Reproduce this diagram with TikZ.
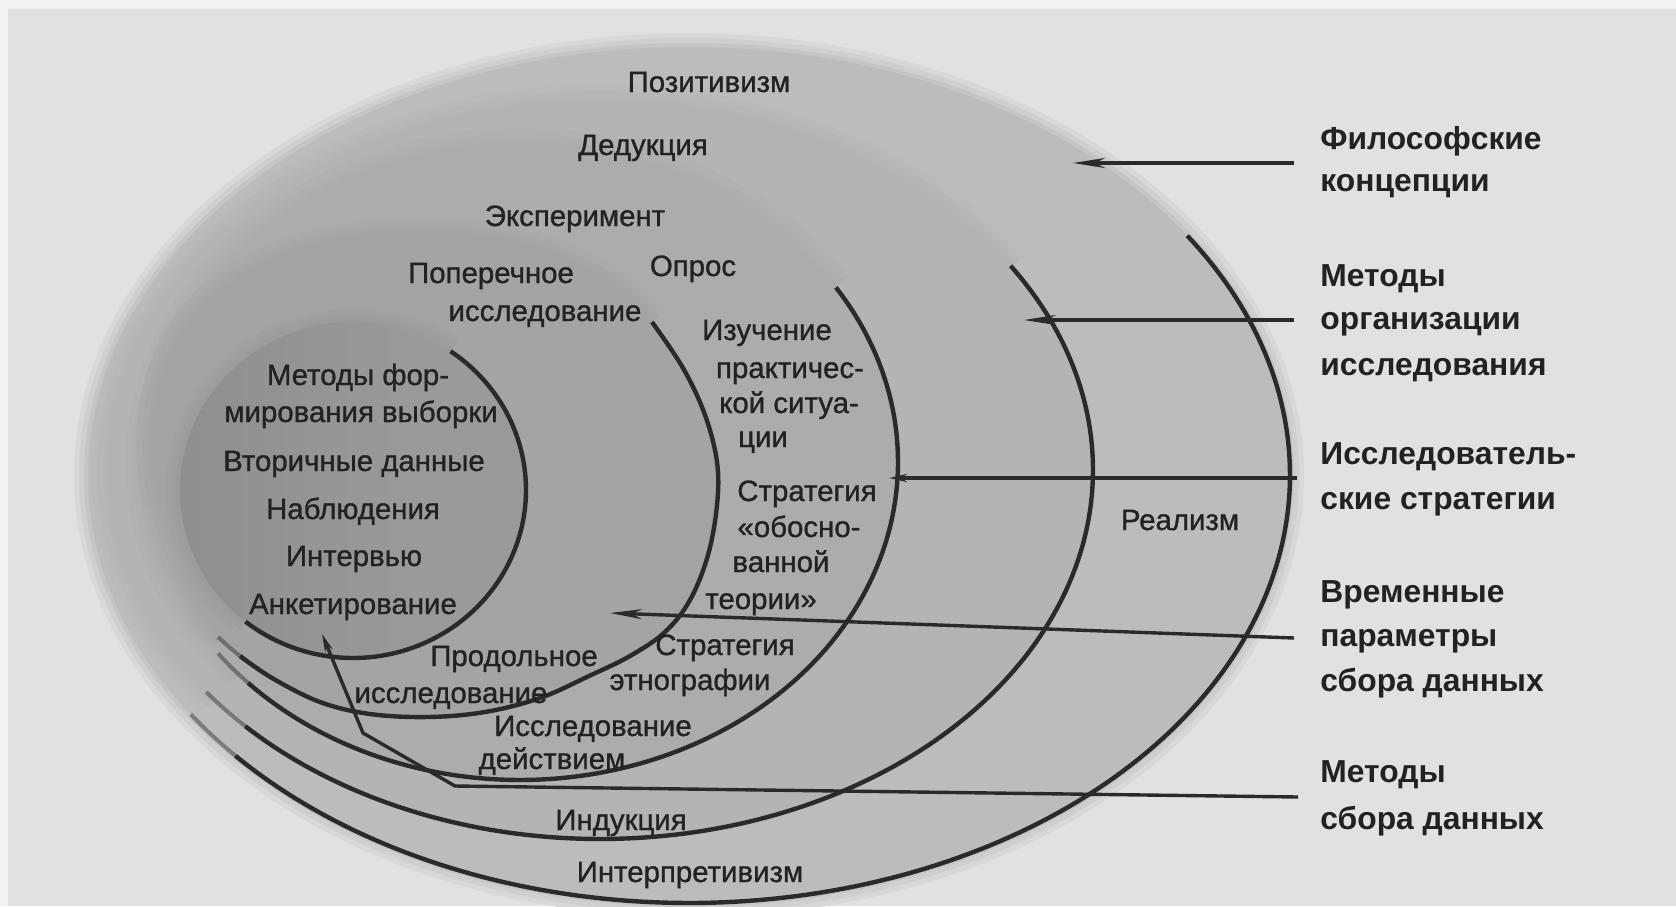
\documentclass[tikz,border=0pt]{standalone}
\usepackage{fontspec}
\setmainfont{Liberation Sans}
\newfontfamily\lblfont[FakeBold=1.0]{Liberation Sans}
\usetikzlibrary{arrows.meta}
\definecolor{bgc}{HTML}{E1E1E1}
\definecolor{edgec}{HTML}{F2F2F2}
\definecolor{lE}{HTML}{BCBCBC}
\definecolor{lD}{HTML}{B4B4B4}
\definecolor{lC}{HTML}{ACACAC}
\definecolor{lB}{HTML}{A4A4A4}
\definecolor{lA}{HTML}{9A9A9A}
\definecolor{lAd}{HTML}{8E8E8E}
\definecolor{ink}{HTML}{2A2A2A}
\definecolor{txt}{HTML}{222222}
\tikzset{
  arcline/.style={draw=ink, line width=2.2pt},
  arctail/.style={draw=ink, line width=2.0pt, draw opacity=0.45},
  conn/.style={draw=ink, line width=1.7pt},
  bigtip/.style={-{Stealth[length=16pt,width=5pt,inset=5pt]}},
  smalltip/.style={-{Stealth[length=9pt,width=4pt,inset=3pt]}},
  lbl/.style={anchor=base, inner sep=0pt, text=txt, font=\lblfont\fontsize{14.7}{17}\selectfont},
  rlbl/.style={anchor=base west, inner sep=0pt, text=txt, font=\fontsize{15.9}{18}\selectfont\bfseries}
}
\begin{document}
\begin{tikzpicture}[x=0.5pt,y=-0.5pt]
\useasboundingbox (0,0) rectangle (1676,906);
% background
\fill[bgc] (0,0) rectangle (1676,906);
\fill[edgec] (0,0) rectangle (1676,9);
\fill[edgec] (0,0) rectangle (8,906);
% outer layer (philosophies) with soft edge
\fill[lE!25!bgc] (689,475) ellipse [x radius=615, y radius=442];
\fill[lE!50!bgc] (689,475) ellipse [x radius=610, y radius=437];
\fill[lE!75!bgc] (689,475) ellipse [x radius=605, y radius=432];
\fill[lE] (689,475) ellipse [x radius=601, y radius=428];
% approaches
\begin{scope}
  \clip (-269,968) -- (1487,4) -- (1487,-600) -- (-600,-600) -- (-600,968) -- cycle;
  \fill[lD!30!lE] (600,470) ellipse [x radius=509, y radius=385];
  \fill[lD!60!lE] (600,470) ellipse [x radius=503, y radius=379];
  \fill[lD!85!lE] (600,470) ellipse [x radius=497, y radius=373];
\end{scope}
\fill[lD] (600,470) ellipse [x radius=493, y radius=369];
% strategies
\begin{scope}
  \clip (-149,930) -- (1196,50) -- (1196,-600) -- (-600,-600) -- (-600,930) -- cycle;
  \fill[lC!30!lD] (520,462) ellipse [x radius=394, y radius=334];
  \fill[lC!60!lD] (520,462) ellipse [x radius=388, y radius=328];
  \fill[lC!85!lD] (520,462) ellipse [x radius=382, y radius=322];
\end{scope}
\fill[lC] (520,462) ellipse [x radius=378, y radius=318];
% time horizons
\def\bshape{plot[smooth cycle, tension=0.6] coordinates {
  (652,322) (683,368) (705,415) (717,462) (717,505) (708,555) (690,600)
  (665,632) (630,656) (589,676) (540,698) (485,712) (428,717) (370,714)
  (320,702) (272,678) (240,656) (205,615) (170,540) (152,450) (168,360)
  (220,290) (310,245) (420,232) (530,245) (610,282)}}
\begin{scope}
  \clip (-36,831) -- (910,131) -- (910,-600) -- (-600,-600) -- (-600,831) -- cycle;
  \fill[lB!30!lC, scale around={1.055:(435,470)}] \bshape;
  \fill[lB!60!lC, scale around={1.035:(435,470)}] \bshape;
  \fill[lB!85!lC, scale around={1.015:(435,470)}] \bshape;
\end{scope}
\fill[lB] \bshape;
% data collection
\begin{scope}
  \clip (126,780) -- (570,193) -- (570,-600) -- (-600,-600) -- (-600,780) -- cycle;
  \fill[lA!30!lB] (353,490) ellipse [x radius=187, y radius=182];
  \fill[lA!60!lB] (353,490) ellipse [x radius=182, y radius=177];
  \fill[lA!85!lB] (353,490) ellipse [x radius=177, y radius=172];
\end{scope}
\fill[lA] (353,490) ellipse [x radius=173, y radius=168];
\begin{scope}
  \clip (353,490) ellipse [x radius=173, y radius=168];
  \shade[left color=lAd, right color=lA] (170,300) rectangle (420,670);
\end{scope}
% layer outlines
\draw[arcline] plot[domain=-34:139, samples=150, variable=\t] ({689+601*cos(\t)},{475+428*sin(\t)});
\draw[arctail] plot[domain=138:146, samples=20, variable=\t] ({689+601*cos(\t)},{475+428*sin(\t)});
\draw[arcline] plot[domain=-33.6:136, samples=150, variable=\t] ({600+493*cos(\t)},{470+369*sin(\t)});
\draw[arctail] plot[domain=135:143, samples=20, variable=\t] ({600+493*cos(\t)},{470+369*sin(\t)});
\draw[arcline] plot[domain=-33.3:136, samples=150, variable=\t] ({520+378*cos(\t)},{462+318*sin(\t)});
\draw[arctail] plot[domain=135:143, samples=20, variable=\t] ({520+378*cos(\t)},{462+318*sin(\t)});
\draw[arcline] plot[smooth, tension=0.6] coordinates {
  (652,322) (683,368) (705,415) (717,462) (717,505) (708,555) (690,600)
  (665,632) (630,656) (589,676) (540,698) (485,712) (428,717) (370,714)
  (320,702) (272,678) (240,656)};
\draw[arctail] plot[smooth, tension=0.6] coordinates {(272,678) (240,656) (218,637)};
\draw[arcline] plot[domain=-55.7:128.4, samples=150, variable=\t] ({353+173*cos(\t)},{490+168*sin(\t)});
% labels inside the onion
\node[lbl] (pos) at (709,92) {Позитивизм};
\node[lbl] (ded) at (643,155) {Дедукция};
\node[lbl] (exp) at (575,226) {Эксперимент};
\node[lbl] (pop1) at (491,283) {Поперечное};
\node[lbl] (pop2) at (545,321) {исследование};
\node[lbl] (opr) at (693,276) {Опрос};
\node[lbl] (cs1) at (767,340) {Изучение};
\node[lbl] (cs2) at (790,378) {практичес-};
\node[lbl] (cs3) at (789,413) {кой ситуа-};
\node[lbl] (cs4) at (763,447) {ции};
\node[lbl] (gt1) at (807,501) {Стратегия};
\node[lbl] (gt2) at (799,537) {«обосно-};
\node[lbl] (gt3) at (781,572) {ванной};
\node[lbl] (gt4) at (761,609) {теории»};
\node[lbl] (sm1) at (358,385) {Методы фор-};
\node[lbl] (sm2) at (361,422) {мирования выборки};
\node[lbl] (sec) at (354,471) {Вторичные данные};
\node[lbl] (obs) at (353,519) {Наблюдения};
\node[lbl] (itv) at (354,566) {Интервью};
\node[lbl] (anq) at (353,614) {Анкетирование};
\node[lbl] (lon1) at (514,666) {Продольное};
\node[lbl] (lon2) at (451,703) {исследование};
\node[lbl] (eth1) at (725,655) {Стратегия};
\node[lbl] (eth2) at (690,690) {этнографии};
\node[lbl] (act1) at (593,736) {Исследование};
\node[lbl] (act2) at (552,769) {действием};
\node[lbl] (ind) at (621,830) {Индукция};
\node[lbl] (int) at (690,882) {Интерпретивизм};
\node[lbl] (rea) at (1180,530) {Реализм};
% right-hand labels
\node[rlbl] (r1a) at (1320,149) {Философские};
\node[rlbl] (r1b) at (1320,191) {концепции};
\node[rlbl] (r2a) at (1320,286) {Методы};
\node[rlbl] (r2b) at (1320,329) {организации};
\node[rlbl] (r2c) at (1320,375) {исследования};
\node[rlbl] (r3a) at (1320,464) {Исследователь-};
\node[rlbl] (r3b) at (1320,509) {ские стратегии};
\node[rlbl] (r4a) at (1320,602) {Временные};
\node[rlbl] (r4b) at (1320,646) {параметры};
\node[rlbl] (r4c) at (1320,691) {сбора данных};
\node[rlbl] (r5a) at (1320,782) {Методы};
\node[rlbl] (r5b) at (1320,829) {сбора данных};
% connector end points
\coordinate (c1s) at (1294,163);
\coordinate (c1e) at (1073,163);
\coordinate (c2s) at (1294,320);
\coordinate (c2e) at (1024,320);
\coordinate (c3s) at (1297,478);
\coordinate (c3e) at (889,478);
\coordinate (c4s) at (1294,638);
\coordinate (c4e) at (610,613);
\coordinate (c5s) at (1298,797);
\coordinate (c5k1) at (455,786);
\coordinate (c5k2) at (363,733);
\coordinate (c5e) at (322,634);
% connectors
\draw[conn, bigtip] (c1s) -- (c1e);
\draw[conn, bigtip] (c2s) -- (c2e);
\draw[conn, smalltip] (c3s) -- (c3e);
\draw[conn, bigtip] (c4s) -- (c4e);
\draw[conn, smalltip] (c5s) -- (c5k1) -- (c5k2) -- (c5e);
\end{tikzpicture}
\end{document}
